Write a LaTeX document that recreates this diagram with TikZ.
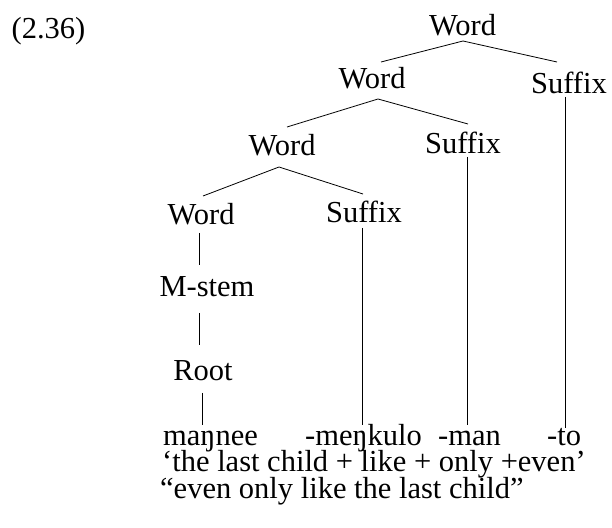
\documentclass[tikz,border=0pt]{standalone}
\usepackage{fontspec}
\setmainfont{Liberation Serif}
\usetikzlibrary{positioning}

\begin{document}
\begin{tikzpicture}[
    x=1pt, y=1pt,
    label/.style={inner sep=0pt, anchor=base, font=\fontsize{30.5}{27}\selectfont},
    gloss/.style={label, anchor=base west},
    branch/.style={line width=0.8pt}
]
\useasboundingbox (0,0) rectangle (612,527);

% Example number
\node[label] (num) at (48.5,488) {(2.36)};

% Tree labels
\node[label] (word1) at (462.5,491) {Word};
\node[label] (word2) at (372,438) {Word};
\node[label] (suffix1) at (569,433) {Suffix};
\node[label] (word3) at (282,371) {Word};
\node[label] (suffix2) at (463,373) {Suffix};
\node[label] (word4) at (201,302) {Word};
\node[label] (suffix3) at (364,304) {Suffix};
\node[label] (mstem) at (207,230) {M-stem};
\node[label] (root) at (203,146) {Root};

% Morphemes and glosses
\node[gloss] (m1) at (163,82) {maŋnee};
\node[gloss] (m2) at (305,82) {-meŋkulo};
\node[gloss] (m3) at (438,82) {-man};
\node[gloss] (m4) at (547,82) {-to};
\node[gloss] (lit) at (162,56) {‘the last child + like + only +even’};
\node[gloss] (free) at (160,29) {“even only like the last child”};

% Branches
\draw[branch] ([shift={(-12,32)}]suffix1.base) -- ([shift={(0.5,-5)}]word1.base) -- ([shift={(9,27)}]word2.base);
\draw[branch] ([shift={(5,30)}]suffix2.base) -- ([shift={(6,-10)}]word2.base) -- ([shift={(5,29)}]word3.base);
\draw[branch] ([shift={(-1,29)}]suffix3.base) -- ([shift={(-3,-11)}]word3.base) -- ([shift={(2,29)}]word4.base);

% Unary lines
\draw[branch] ([shift={(-2,-8)}]word4.base) -- ([shift={(-8,32)}]mstem.base);
\draw[branch] ([shift={(-8,-16)}]mstem.base) -- ([shift={(-4,36)}]root.base);
\draw[branch] ([shift={(-1,-12)}]root.base) -- ([shift={(39,20)}]m1.base west);
\draw[branch] ([shift={(-2,-5)}]suffix3.base) -- ([shift={(57,20)}]m2.base west);
\draw[branch] ([shift={(4,-3)}]suffix2.base) -- ([shift={(29,20)}]m3.base west);
\draw[branch] ([shift={(-4,-3)}]suffix1.base) -- ([shift={(18,17)}]m4.base west);

\end{tikzpicture}
\end{document}
